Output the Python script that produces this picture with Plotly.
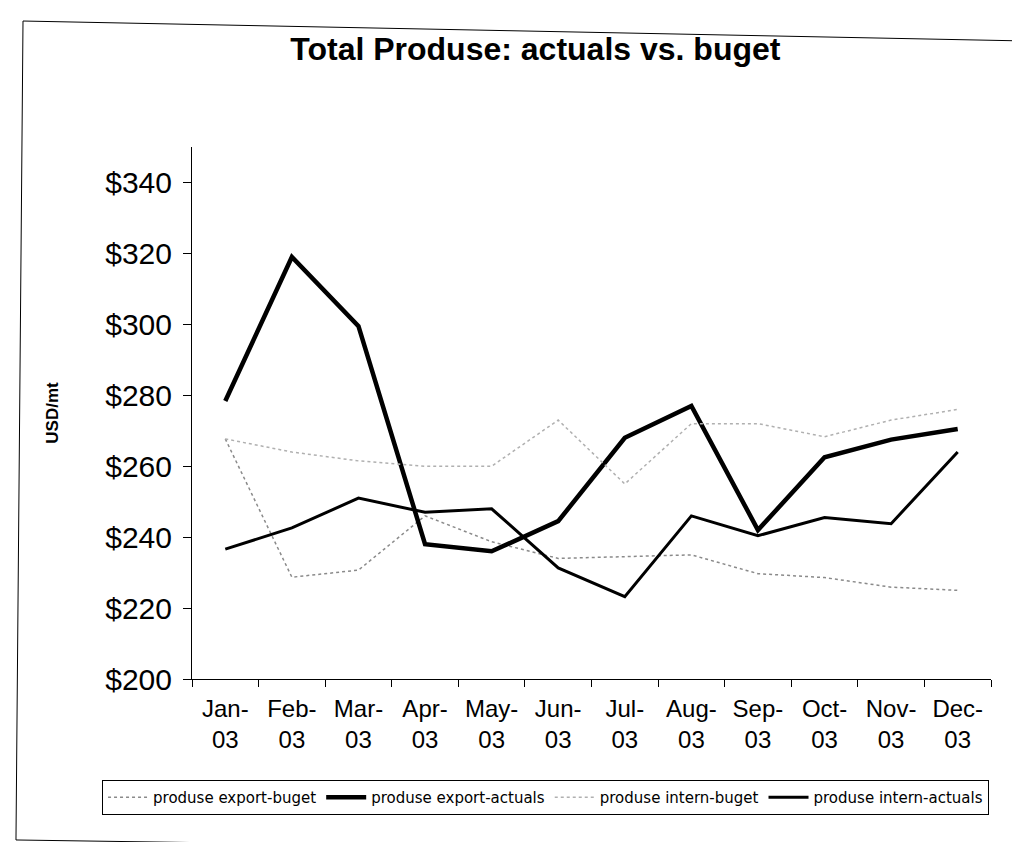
import plotly.graph_objects as go

# months on the category axis
months = ["Jan-<br>03", "Feb-<br>03", "Mar-<br>03", "Apr-<br>03", "May-<br>03", "Jun-<br>03",
          "Jul-<br>03", "Aug-<br>03", "Sep-<br>03", "Oct-<br>03", "Nov-<br>03", "Dec-<br>03"]

# USD/mt
export_buget = [267.7, 228.7, 230.7, 246, 238.7, 234, 234.5, 235, 229.7, 228.6, 225.9, 225]
export_actuals = [278.4, 319, 299.5, 238, 236, 244.5, 268, 277, 242, 262.5, 267.5, 270.5]
intern_buget = [267.7, 264, 261.5, 260, 260, 273, 255, 272, 272, 268.3, 273, 276]
intern_actuals = [236.6, 242.6, 251, 247, 248, 231.3, 223.2, 246, 240.4, 245.5, 243.8, 264]

fig = go.Figure()

# export budget
fig.add_trace(go.Scatter(x=months, y=export_buget, name="produse export-buget",
                         mode="lines", line=dict(color="#8a8a8a", width=1.5, dash="dot")))
# export actuals
fig.add_trace(go.Scatter(x=months, y=export_actuals, name="produse export-actuals",
                         mode="lines", line=dict(color="black", width=4.5)))
# intern budget
fig.add_trace(go.Scatter(x=months, y=intern_buget, name="produse intern-buget",
                         mode="lines", line=dict(color="#b0b0b0", width=1.5, dash="dot")))
# intern actuals
fig.add_trace(go.Scatter(x=months, y=intern_actuals, name="produse intern-actuals",
                         mode="lines", line=dict(color="black", width=3)))

fig.update_layout(
    width=1020, height=842,
    paper_bgcolor="white", plot_bgcolor="white",
    margin=dict(l=184, r=37, t=139, b=171),
    font=dict(family="Liberation Sans, Arial, sans-serif", color="black"),
    title=dict(text="<b>Total Produse: actuals vs. buget</b>",
               x=0.517, xanchor="center", xref="container",
               y=0.951, yanchor="middle", yref="container",
               font=dict(size=32)),
    showlegend=True,
    legend=dict(orientation="h", x=-0.1126, xanchor="left", y=-0.19, yanchor="top",
                bordercolor="black", borderwidth=1,
                font=dict(family="DejaVu Sans, Liberation Sans", size=15),
                itemwidth=40, tracegroupgap=0),
)

# Set x-axis
fig.update_xaxes(type="category", range=[-0.5, 11.5], showgrid=False, automargin=False,
                 showline=True, linecolor="black", linewidth=1,
                 ticks="outside", tickson="boundaries", ticklen=7, tickcolor="black",
                 tickfont=dict(size=24), tickangle=0, ticklabelstandoff=8)

# Set y-axis
fig.update_yaxes(range=[200, 350], dtick=20, tick0=200, showgrid=False, zeroline=False,
                 automargin=False,
                 showline=True, linecolor="black", linewidth=1,
                 ticks="outside", ticklen=8, tickcolor="black",
                 tickprefix="$", tickfont=dict(size=30), ticklabelstandoff=5,
                 title=dict(text="<b>USD/mt</b>", font=dict(size=17), standoff=42))

# outer chart border (scanned frame, slightly rotated)
border = dict(color="black", width=1)
fig.add_shape(type="line", xref="paper", yref="paper",
              x0=-0.2115, y0=1.2368, x1=1.0463, y1=1.1992, line=border)
fig.add_shape(type="line", xref="paper", yref="paper",
              x0=-0.2115, y0=1.2368, x1=-0.2203, y1=-0.3026, line=border)
fig.add_shape(type="line", xref="paper", yref="paper",
              x0=-0.2203, y0=-0.3026, x1=0.4706, y1=-0.3177, line=border)

fig.write_html("out.html")
